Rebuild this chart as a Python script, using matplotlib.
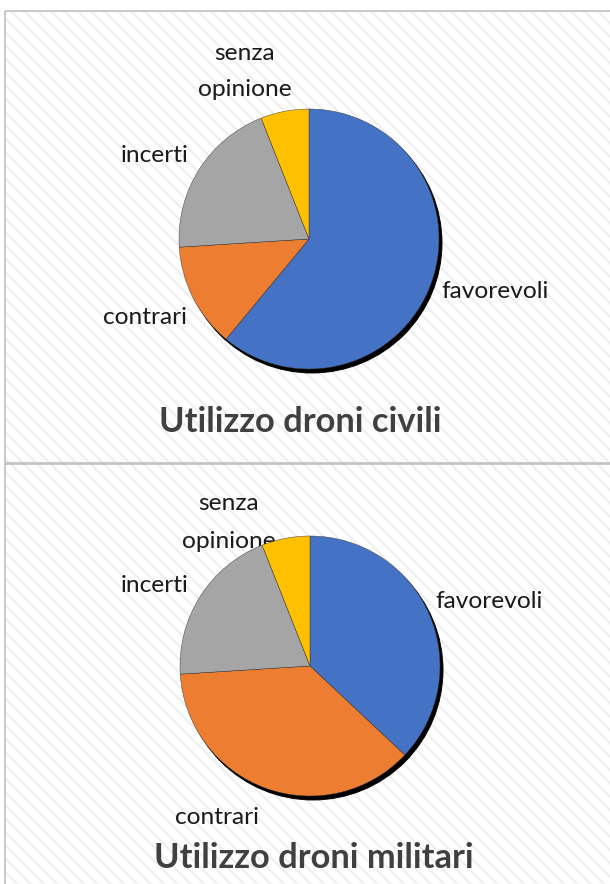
import matplotlib
matplotlib.use("Agg")
import matplotlib.pyplot as plt
import matplotlib.transforms as mtransforms
from matplotlib.patches import Rectangle, Circle

# data
categories = ["favorevoli", "contrari", "incerti", "senza opinione"]
civili = [61, 13, 20, 6]
militari = [37, 37, 20, 6]
titles = ["Utilizzo droni civili", "Utilizzo droni militari"]
colors = ["#4472C4", "#ED7D31", "#A5A5A5", "#FFC000"]

plt.rcParams["font.family"] = ["Lato", "DejaVu Sans"]
plt.rcParams["hatch.linewidth"] = 2.0

DPI = 80
W, H = 610, 884
fig = plt.figure(figsize=(W / DPI, H / DPI), dpi=DPI)
fig.patch.set_facecolor("white")

# background axes in pixel coords
bg = fig.add_axes([0, 0, 1, 1])
bg.set_xlim(0, W)
bg.set_ylim(H, 0)
bg.axis("off")

panels = [(11, 463), (464, 900)]
for top, bottom in panels:
    bg.add_patch(Rectangle((5, top), W + 30, bottom - top, facecolor="white",
                           edgecolor="#efefef", hatch="\\\\", lw=0, clip_on=False))
    bg.add_patch(Rectangle((5, top), W + 30, bottom - top, fill=False,
                           edgecolor="#c4c4c4", lw=1.6, clip_on=False))

# pie placement (center x, center y, radius) in pixels
pies = [(309, 239, 130), (310, 666, 130)]
label_pos = [
    {"favorevoli": (441, 292, "left"), "contrari": (187, 317, "right"),
     "incerti": (189, 156, "right"), "senza": (245, 54, "center"),
     "opinione": (245, 90, "center")},
    {"favorevoli": (435, 601, "left"), "contrari": (217, 818, "center"),
     "incerti": (189, 585, "right"), "senza": (229, 503, "center"),
     "opinione": (229, 541, "center")},
]
title_pos = [(300, 422), (314, 858)]

for i, vals in enumerate([civili, militari]):
    cx, cy, r = pies[i]
    ax = fig.add_axes([(cx - r) / W, 1 - (cy + r) / H, 2 * r / W, 2 * r / H])
    ax.pie(vals, colors=colors, startangle=90, counterclock=False,
           wedgeprops=dict(edgecolor="#3a3a3a", linewidth=0.4))
    # shadow
    shift = mtransforms.ScaledTranslation(3 / DPI, -4 / DPI, fig.dpi_scale_trans)
    ax.add_patch(Circle((0, 0), 1, facecolor="black", edgecolor="black",
                        lw=0.8, transform=ax.transData + shift, zorder=0,
                        clip_on=False))
    ax.set_xlim(-1, 1)
    ax.set_ylim(-1, 1)
    ax.set_aspect("auto")
    ax.axis("off")

    lp = label_pos[i]
    for name in ["favorevoli", "contrari", "incerti", "senza", "opinione"]:
        x, y, ha = lp[name]
        bg.text(x, y, name, ha=ha, va="center", fontsize=22, color="#1a1a1a")
    tx, ty = title_pos[i]
    bg.text(tx, ty, titles[i], ha="center", va="center", fontsize=31,
            fontweight="bold", color="#404040")

fig.savefig("out.png", dpi=DPI)
